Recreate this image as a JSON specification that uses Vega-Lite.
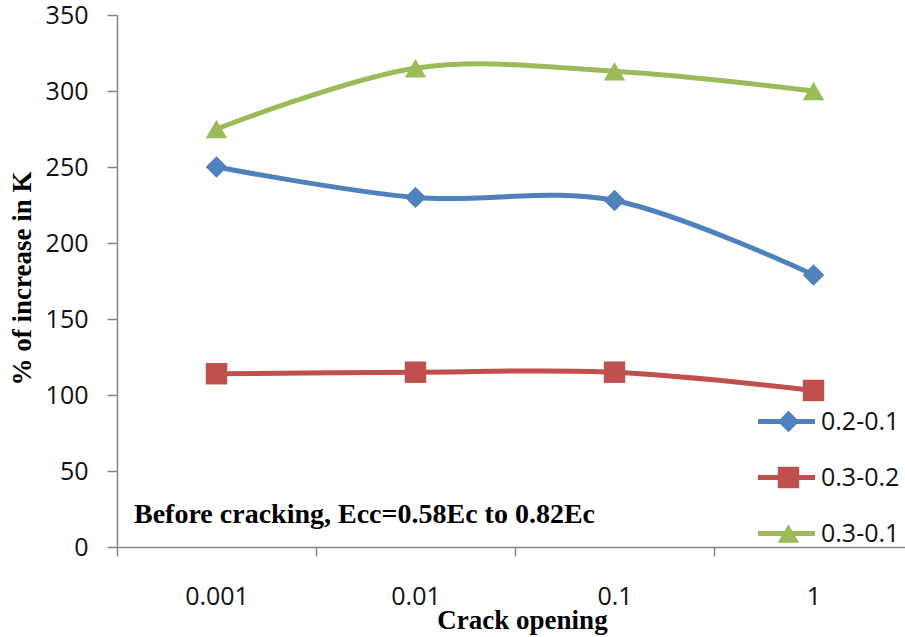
{
  "$schema": "https://vega.github.io/schema/vega-lite/v6.json",
  "width": 788,
  "height": 532,
  "autosize": {"type": "none"},
  "padding": {"left": 117, "top": 15, "right": 0, "bottom": 90},
  "background": "white",
  "config": {
    "view": {"stroke": null},
    "axis": {
      "grid": false,
      "domainColor": "#868686",
      "domainWidth": 1.5,
      "tickColor": "#868686",
      "tickWidth": 1.5,
      "labelFont": "Open Sans",
      "labelFontSize": 25,
      "labelColor": "#111111",
      "titleFont": "Liberation Serif",
      "titleFontWeight": "bold",
      "titleFontSize": 27,
      "titleColor": "#000000"
    },
    "legend": {
      "labelFont": "Open Sans",
      "labelFontSize": 25,
      "labelColor": "#111111"
    }
  },
  "data": {
    "values": [
      {"series": "0.2-0.1", "opening": "0.001", "increase": 250},
      {"series": "0.2-0.1", "opening": "0.01", "increase": 230},
      {"series": "0.2-0.1", "opening": "0.1", "increase": 228},
      {"series": "0.2-0.1", "opening": "1", "increase": 179},
      {"series": "0.3-0.2", "opening": "0.001", "increase": 114},
      {"series": "0.3-0.2", "opening": "0.01", "increase": 115},
      {"series": "0.3-0.2", "opening": "0.1", "increase": 115},
      {"series": "0.3-0.2", "opening": "1", "increase": 103},
      {"series": "0.3-0.1", "opening": "0.001", "increase": 275},
      {"series": "0.3-0.1", "opening": "0.01", "increase": 315},
      {"series": "0.3-0.1", "opening": "0.1", "increase": 313},
      {"series": "0.3-0.1", "opening": "1", "increase": 300}
    ]
  },
  "encoding": {
    "x": {
      "field": "opening",
      "type": "nominal",
      "sort": null,
      "scale": {"type": "band", "paddingInner": 0, "paddingOuter": 0, "range": [0, 796]},
      "axis": {
        "title": "Crack opening",
        "labelAngle": 0,
        "tickBand": "extent",
        "tickSize": 9,
        "labelPadding": 28,
        "titleBaseline": "alphabetic",
        "titleY": 81,
        "titleX": 405
      }
    },
    "y": {
      "field": "increase",
      "type": "quantitative",
      "scale": {"domain": [0, 350], "nice": false, "zero": true},
      "axis": {
        "title": "% of increase in K",
        "values": [0, 50, 100, 150, 200, 250, 300, 350],
        "tickSize": 10,
        "labelPadding": 19,
        "titleAngle": -90,
        "titleAlign": "center",
        "titleBaseline": "middle",
        "titleX": -95,
        "titleY": 263
      }
    }
  },
  "layer": [
    {
      "mark": {"type": "line", "interpolate": "cardinal", "strokeWidth": 5},
      "encoding": {
        "color": {
          "field": "series",
          "type": "nominal",
          "sort": null,
          "scale": {"domain": ["0.2-0.1", "0.3-0.2", "0.3-0.1"], "range": ["#4F81BD", "#C0504D", "#9BBB59"]},
          "legend": {
            "orient": "none",
            "legendX": 657,
            "legendY": 394,
            "title": null,
            "symbolType": "M-2.85,0H2.85",
            "symbolSize": 400,
            "symbolStrokeWidth": 5,
            "labelOffset": 22,
            "rowPadding": 30,
            "padding": 0
          }
        }
      }
    },
    {
      "mark": {"type": "point", "filled": true, "size": 460, "opacity": 1},
      "encoding": {
        "color": {
          "field": "series",
          "type": "nominal",
          "sort": null,
          "legend": {
            "orient": "none",
            "legendX": 659,
            "legendY": 394,
            "title": null,
            "symbolSize": 460,
            "labelExpr": "''",
            "rowPadding": 30,
            "padding": 0
          }
        },
        "shape": {
          "field": "series",
          "type": "nominal",
          "sort": null,
          "scale": {"domain": ["0.2-0.1", "0.3-0.2", "0.3-0.1"], "range": ["diamond", "square", "triangle-up"]},
          "legend": {
            "orient": "none",
            "legendX": 659,
            "legendY": 394,
            "title": null,
            "symbolSize": 460,
            "labelExpr": "''",
            "rowPadding": 30,
            "padding": 0
          }
        }
      }
    },
    {
      "data": {"values": [{"opening": "0.001", "level": 16, "note": "Before cracking, Ecc=0.58Ec to 0.82Ec"}]},
      "mark": {
        "type": "text",
        "align": "left",
        "baseline": "alphabetic",
        "dx": 17,
        "font": "Liberation Serif",
        "fontWeight": "bold",
        "fontSize": 28,
        "color": "#000000"
      },
      "encoding": {
        "x": {"field": "opening", "type": "nominal", "bandPosition": 0},
        "y": {"field": "level", "type": "quantitative"},
        "text": {"field": "note"}
      }
    }
  ],
  "resolve": {"legend": {"color": "independent", "shape": "independent"}}
}
